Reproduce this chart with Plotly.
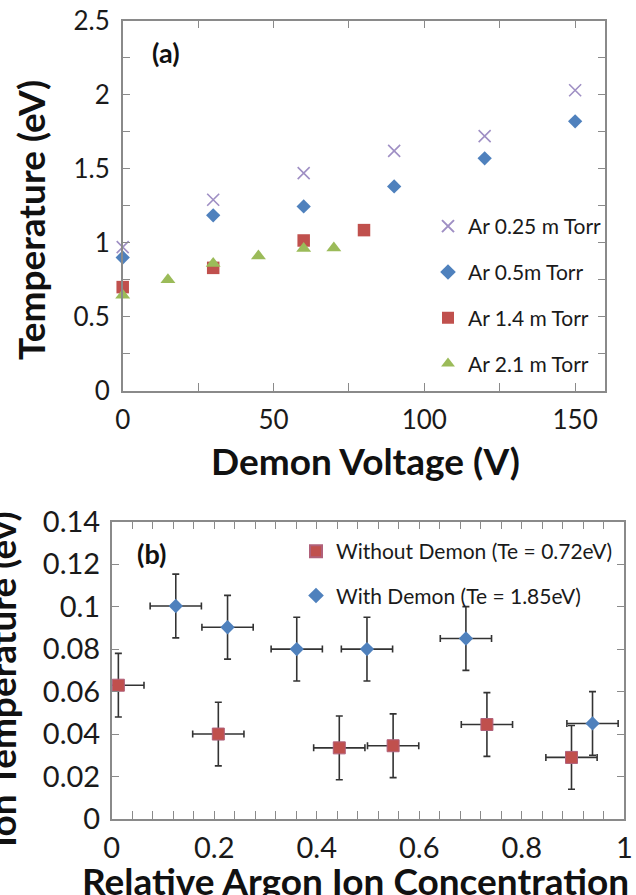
import plotly.graph_objects as go

# ---------------- Panel (a): electron temperature vs demon voltage ----------------
v_025 = [0, 30, 60, 90, 120, 150]
t_025 = [0.97, 1.29, 1.47, 1.62, 1.72, 2.03]
v_05 = [0, 30, 60, 90, 120, 150]
t_05 = [0.90, 1.185, 1.245, 1.38, 1.57, 1.82]
v_14 = [0, 30, 60, 80]
t_14 = [0.70, 0.83, 1.015, 1.085]
v_21 = [0, 15, 30, 45, 60, 70]
t_21 = [0.645, 0.75, 0.86, 0.91, 0.96, 0.965]
names_a = ["Ar 0.25 m Torr", "Ar 0.5m Torr", "Ar 1.4 m Torr", "Ar 2.1 m Torr"]

xa_ticks = [0, 50, 100, 150]
ya_ticks = [0, 0.5, 1, 1.5, 2, 2.5]

# ---------------- Panel (b): ion temperature vs relative argon concentration ----------------
conc_without = [0.013, 0.208, 0.444, 0.549, 0.732, 0.897]
ti_without = [0.063, 0.040, 0.0335, 0.0345, 0.0445, 0.029]
conc_with = [0.125, 0.226, 0.361, 0.498, 0.691, 0.938]
ti_with = [0.1003, 0.0903, 0.080, 0.080, 0.085, 0.045]
conc_err = 0.05
ti_err = 0.015
names_b = ["Without Demon (Te = 0.72eV)", "With Demon (Te = 1.85eV)"]

xb_ticks = [0, 0.2, 0.4, 0.6, 0.8, 1]
yb_ticks = [0, 0.02, 0.04, 0.06, 0.08, 0.1, 0.12, 0.14]

PURPLE = "#9F8FC4"
BLUE = "#4F81BD"
RED = "#C0504D"
GREEN = "#9BBB59"
FRAME = "#8a8a8a"
FONT = "Lato"

W, H = 636, 895


def px_x(p):
    return p / W


def px_y(p):
    return 1 - p / H


fig = go.Figure()

# panel (a) traces
fig.add_trace(go.Scatter(x=v_025, y=t_025, mode="markers", name=names_a[0], cliponaxis=False,
                         marker=dict(symbol="x-thin", size=12, line=dict(color=PURPLE, width=1.6), color=PURPLE),
                         xaxis="x", yaxis="y", legend="legend", legendgroup="a1"))
fig.add_trace(go.Scatter(x=v_05, y=t_05, mode="markers", name=names_a[1], cliponaxis=False,
                         marker=dict(symbol="diamond", size=11, color=BLUE),
                         xaxis="x", yaxis="y", legend="legend", legendgroup="a2"))
fig.add_trace(go.Scatter(x=v_14, y=t_14, mode="markers", name=names_a[2], cliponaxis=False,
                         marker=dict(symbol="square", size=12.5, color=RED),
                         xaxis="x", yaxis="y", legend="legend", legendgroup="a3"))
fig.add_trace(go.Scatter(x=v_21, y=t_21, mode="markers", name=names_a[3], cliponaxis=False,
                         marker=dict(symbol="triangle-up", size=13, color=GREEN),
                         xaxis="x", yaxis="y", legend="legend", legendgroup="a4"))

# panel (b) traces
err_style = dict(type="constant", color="#333333", thickness=1.6, width=3.5)
fig.add_trace(go.Scatter(x=conc_without, y=ti_without, mode="markers", name=names_b[0],
                         marker=dict(symbol="square", size=12, color=RED, line=dict(color="#B0607A", width=1)),
                         error_x=dict(value=conc_err, **err_style),
                         error_y=dict(value=ti_err, **err_style),
                         xaxis="x2", yaxis="y2", legend="legend2", legendgroup="b1"))
fig.add_trace(go.Scatter(x=conc_with, y=ti_with, mode="markers", name=names_b[1],
                         marker=dict(symbol="diamond", size=11, color=BLUE),
                         error_x=dict(value=conc_err, **err_style),
                         error_y=dict(value=ti_err, **err_style),
                         xaxis="x2", yaxis="y2", legend="legend2", legendgroup="b2"))

tick_a = dict(family=FONT, size=26, color="#1a1a1a")
tick_b = dict(family=FONT, size=29, color="#1a1a1a")
axis_common = dict(showline=True, linecolor=FRAME, linewidth=1.5, mirror="ticks",
                   ticks="inside", tickcolor=FRAME, tickwidth=1.2, ticklen=8,
                   showgrid=False, zeroline=False, automargin=False)

fig.update_layout(
    width=W, height=H,
    margin=dict(l=0, r=0, t=0, b=0, pad=0, autoexpand=False),
    paper_bgcolor="white", plot_bgcolor="white",
    font=dict(family=FONT, color="#1a1a1a"),
    xaxis=dict(domain=[px_x(122.7), px_x(605.3)], range=[0, 160], anchor="y",
               tickmode="array", tickvals=xa_ticks, ticktext=[str(v) for v in xa_ticks],
               minor=dict(tickmode="linear", tick0=0, dtick=25, ticks="inside", ticklen=8, tickcolor=FRAME),
               ticklabelstandoff=5, tickfont=tick_a, **axis_common),
    yaxis=dict(domain=[px_y(390.7), px_y(20.7)], range=[0, 2.5], anchor="x",
               tickmode="array", tickvals=ya_ticks, ticktext=[f"{v:g}" for v in ya_ticks],
               minor=dict(tickmode="linear", tick0=0, dtick=0.25, ticks="inside", ticklen=8, tickcolor=FRAME),
               ticklabelstandoff=6, tickfont=tick_a, **axis_common),
    xaxis2=dict(domain=[px_x(111.7), px_x(624.3)], range=[0, 1], anchor="y2",
                tickmode="array", tickvals=xb_ticks, ticktext=[f"{v:g}" for v in xb_ticks],
                minor=dict(tickmode="linear", tick0=0, dtick=0.04, ticks="inside", ticklen=8, tickcolor=FRAME),
                ticklabelstandoff=2, tickfont=tick_b, **axis_common),
    yaxis2=dict(domain=[px_y(819), px_y(521.7)], range=[0, 0.14], anchor="x2",
                tickmode="array", tickvals=yb_ticks, ticktext=[f"{v:g}" for v in yb_ticks],
                ticklabelstandoff=4, tickfont=tick_b, **axis_common),
    legend=dict(x=px_x(428), y=px_y(206), xanchor="left", yanchor="top",
                bgcolor="rgba(0,0,0,0)", font=dict(family=FONT, size=21, color="#1a1a1a"),
                tracegroupgap=15.5, itemsizing="constant"),
    legend2=dict(x=px_x(296), y=px_y(531), xanchor="left", yanchor="top",
                 bgcolor="rgba(0,0,0,0)", font=dict(family=FONT, size=21, color="#1a1a1a"),
                 tracegroupgap=14, itemsizing="constant"),
    showlegend=True,
)

title_font = dict(family=FONT, size=37, color="#111111")
ann = [
    dict(text="<b>Temperature (eV)</b>", x=px_x(31), y=px_y(220), textangle=-90, font=title_font),
    dict(text="<b>Demon Voltage (V)</b>", x=px_x(365), y=px_y(460), font=title_font),
    dict(text="<b>Ion Temperature (ev)</b>", x=px_x(1), y=px_y(679), textangle=-90, font=title_font),
    dict(text="<b>Relative Argon Ion Concentration</b>", x=px_x(355), y=px_y(880), font=title_font),
    dict(text="<b>(a)</b>", x=px_x(165.5), y=px_y(52), font=dict(family=FONT, size=27, color="#111111")),
    dict(text="<b>(b)</b>", x=px_x(151.7), y=px_y(553), font=dict(family=FONT, size=27, color="#111111")),
]
for a in ann:
    a.update(xref="paper", yref="paper", showarrow=False, xanchor="center", yanchor="middle")
fig.update_layout(annotations=ann)

fig.write_html("out.html")
